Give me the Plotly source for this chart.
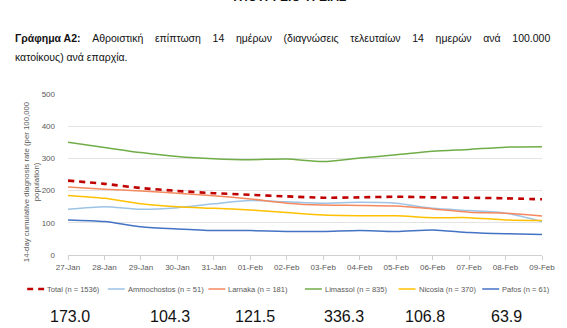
import plotly.graph_objects as go

dates = ["27-Jan", "28-Jan", "29-Jan", "30-Jan", "31-Jan", "01-Feb", "02-Feb",
         "03-Feb", "04-Feb", "05-Feb", "06-Feb", "07-Feb", "08-Feb", "09-Feb"]
total = [231, 221, 208, 199, 192, 187, 182, 178, 179, 181, 179, 178, 176, 173.0]
ammochostos = [142, 150, 142, 147, 159, 169, 165, 161, 164, 161, 145, 138, 130, 104.3]
larnaka = [211, 204, 199, 192, 184, 174, 161, 155, 154, 152, 143, 133, 130, 121.5]
limassol = [350, 334, 318, 306, 299, 296, 298, 290, 301, 311, 322, 328, 335, 336.3]
nicosia = [185, 176, 159, 150, 145, 140, 132, 124, 122, 122, 116, 116, 109, 106.8]
pafos = [109, 104, 88, 81, 76, 76, 73, 73, 76, 73, 78, 70, 66, 63.9]

series_names = ["Total (n = 1536)", "Ammochostos (n = 51)", "Larnaka (n = 181)",
                "Limassol (n = 835)", "Nicosia (n = 370)", "Pafos (n = 61)"]
latest_values = [173.0, 104.3, 121.5, 336.3, 106.8, 63.9]
y_ticks = [0, 100, 200, 300, 400, 500]

colors = ["#C00000", "#9DC3E6", "#F4895F", "#70AD47", "#FFC000", "#4472C4"]
series = [total, ammochostos, larnaka, limassol, nicosia, pafos]

W, H = 567, 328
L, R, T, B = 68, 23, 94, 73
PW, PH = W - L - R, H - T - B

def px(x):
    return (x - L) / PW

def py(y):
    return (H - B - y) / PH

FONT = "Liberation Sans, Arial, sans-serif"
GRAY = "#595959"

fig = go.Figure()
order = [1, 2, 3, 4, 5, 0]
for i in order:
    is_total = i == 0
    fig.add_trace(go.Scatter(
        x=dates, y=series[i], name=series_names[i], mode="lines",
        line=dict(color=colors[i], width=2.6 if is_total else 1.5,
                  dash="6px,5px" if is_total else "solid",
                  shape="spline", smoothing=0.7),
        showlegend=False, hoverinfo="skip"))

annotations = []
shapes = []

# header (cut off at top, as in the reference)
annotations.append(dict(text="<b>ΥΠΟΥΡΓΕΙΟ ΥΓΕΙΑΣ</b>", xref="paper", yref="paper",
                        x=px(289), y=py(6), xanchor="center", yanchor="bottom",
                        showarrow=False, font=dict(family=FONT, size=12, color="#111")))
# caption (justified first line)
gap = " " + "&nbsp;" * 3
words = ["Αθροιστική", "επίπτωση", "14", "ημέρων", "(διαγνώσεις", "τελευταίων",
         "14", "ημερών", "ανά", "100.000"]
line1 = "<b>Γράφημα Α2:</b>" + gap + gap.join(words)
annotations.append(dict(
    text=line1, xref="paper", yref="paper", x=px(13), y=py(38), xanchor="left", yanchor="middle",
    showarrow=False, font=dict(family=FONT, size=10.5, color="#111")))
annotations.append(dict(
    text="κατοίκους) ανά επαρχία.",
    xref="paper", yref="paper", x=px(13), y=py(57), xanchor="left", yanchor="middle",
    showarrow=False, font=dict(family=FONT, size=10.5, color="#111")))
# y axis title
annotations.append(dict(
    text="14-day cumulative diagnosis rate (per 100,000<br>population)",
    xref="paper", yref="paper", x=px(31), y=py(182), xanchor="center", yanchor="middle",
    textangle=-90, showarrow=False, font=dict(family=FONT, size=7.8, color=GRAY)))

# manual legend
leg_x = [27, 108, 209, 306, 400, 484]
leg_y = 289
for i, name in enumerate(series_names):
    x0 = leg_x[i]
    shapes.append(dict(type="line", xref="paper", yref="paper",
                       x0=px(x0), x1=px(x0 + 17), y0=py(leg_y), y1=py(leg_y),
                       line=dict(color=colors[i], width=2.6 if i == 0 else 1.5,
                                 dash="6px,5px" if i == 0 else "solid")))
    annotations.append(dict(text=name, xref="paper", yref="paper", x=px(x0 + 18), y=py(leg_y),
                            xanchor="left", yanchor="middle", showarrow=False,
                            font=dict(family=FONT, size=7.5, color=GRAY)))

# latest values row
val_x = [70, 170, 256, 345, 427, 508]
for i, v in enumerate(latest_values):
    annotations.append(dict(text=f"{v:.1f}", xref="paper", yref="paper", x=px(val_x[i]), y=py(316),
                            xanchor="center", yanchor="middle", showarrow=False,
                            font=dict(family=FONT, size=16, color="#111")))

fig.update_layout(
    width=W, height=H, margin=dict(l=L, r=R, t=T, b=B),
    paper_bgcolor="white", plot_bgcolor="white",
    font=dict(family=FONT, size=8, color=GRAY),
    showlegend=False,
    annotations=annotations, shapes=shapes,
    xaxis=dict(type="category", categoryorder="array", categoryarray=dates,
               range=[0, len(dates) - 1], showgrid=False, showline=True,
               linecolor="#D0D0D0", linewidth=1, ticks="outside", ticklen=4,
               tickcolor="#D0D0D0", tickfont=dict(size=8, color=GRAY), zeroline=False),
    yaxis=dict(range=[0, 500], tickvals=y_ticks, showgrid=True, gridcolor="#E3E3E3",
               gridwidth=1, zeroline=False, showline=False, ticks="",
               ticklabelstandoff=12, tickfont=dict(size=8, color=GRAY)),
)

fig.write_html("out.html")
